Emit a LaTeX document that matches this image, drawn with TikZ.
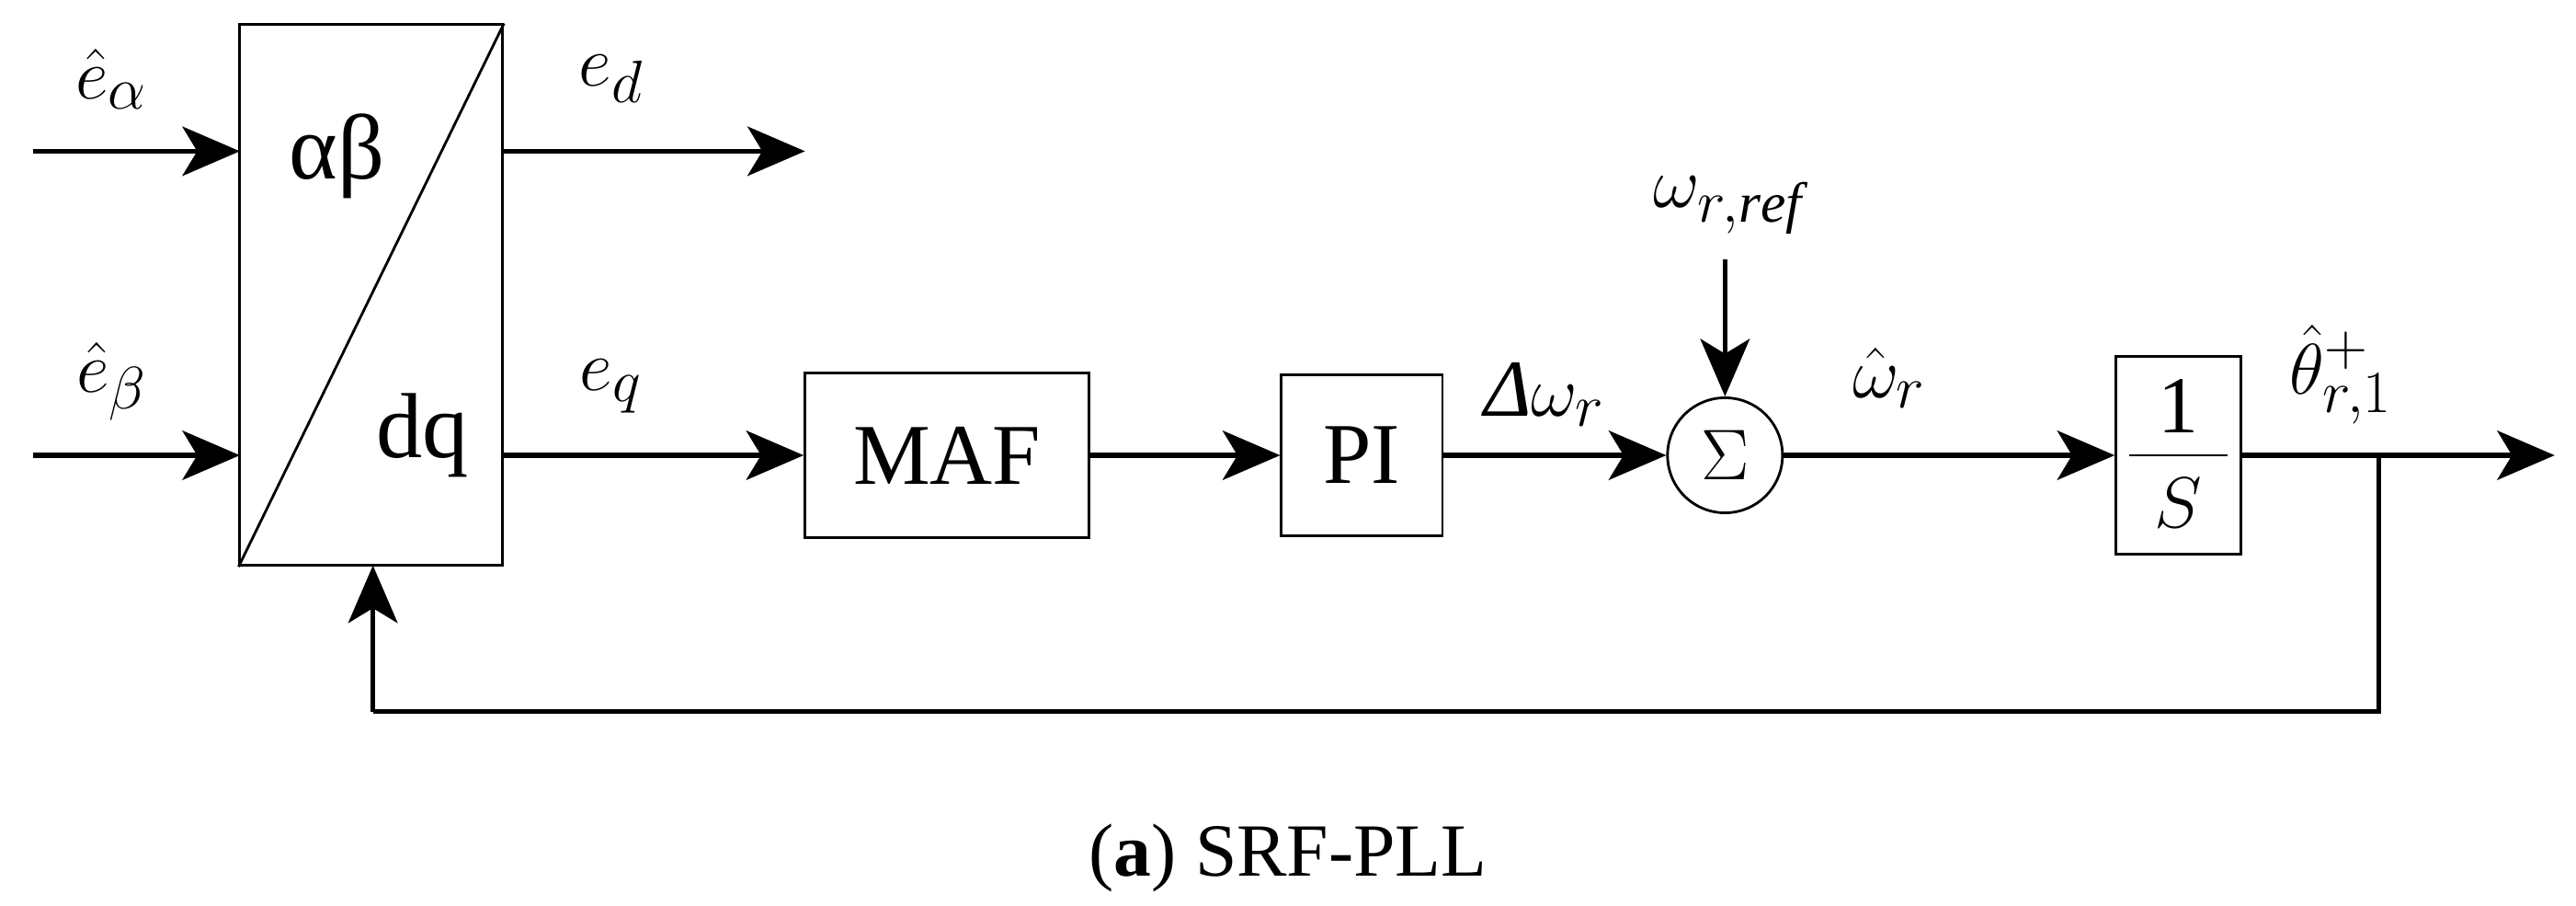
\documentclass[tikz,border=0pt]{standalone}
\usepackage{fontspec}
\setmainfont{Liberation Serif}
\usetikzlibrary{arrows.meta}
\begin{document}
\begin{tikzpicture}[x=0.02cm,y=-0.02cm,
  sig/.style={line width=1.7pt,-{Stealth[length=0.7cm,width=0.6cm,inset=0.18cm]}},
  wire/.style={line width=1.7pt},
  blk/.style={draw,line width=0.9pt,inner sep=0pt,font=\fontsize{30}{34}\selectfont},
  lab/.style={font=\fontsize{28}{32}\selectfont,inner sep=1pt}]
\useasboundingbox (0,0) rectangle (1568,551);
% transformation box
\node[blk,minimum width=160*0.02cm,minimum height=329*0.02cm] (T) at (226,179.5) {};
\draw[line width=0.9pt] (T.south west) -- (T.north east);
\node[lab,font=\fontsize{32}{36}\selectfont] (ab) at (205,95) {αβ};
\node[lab,font=\fontsize{32}{36}\selectfont] (dq) at (257,265) {dq};
% inputs
\coordinate (ia) at (20,92); \coordinate (ib) at (20,277);
\coordinate (ta) at (146,92); \coordinate (tb) at (146,277);
\draw[sig] (ia) -- (ta);
\draw[sig] (ib) -- (tb);
\node[lab] (la) at (68,48) {$\hat e_\alpha$};
\node[lab] (lb) at (68,232) {$\hat e_\beta$};
% outputs
\coordinate (od) at (306,92); \coordinate (ed) at (490,92);
\draw[sig] (od) -- (ed);
\node[lab] (led) at (372,48) {$e_d$};
\coordinate (oq) at (306,277);
\node[blk,minimum width=173*0.02cm,minimum height=100*0.02cm] (maf) at (576.5,277) {MAF};
\draw[sig] (oq) -- (maf.west);
\node[lab] (leq) at (372,235) {$e_q$};
\node[blk,minimum width=98*0.02cm,minimum height=98*0.02cm] (pi) at (829,277) {PI};
\draw[sig] (maf.east) -- (pi.west);
\node[draw,circle,line width=0.9pt,minimum size=70*0.02cm,inner sep=0pt,font=\fontsize{38}{42}\selectfont] (sum) at (1050,277) {$\Sigma$};
\draw[sig] (pi.east) -- (sum.west);
\node[lab] (ldw) at (940,240) {{\itshape Δ}$\omega_r$};
\node[lab] (lref) at (1052,125) {$\omega_{r,\mathit{ref}}$};
\coordinate (rt) at (1050,158);
\draw[sig] (rt) -- (sum.north);
\node[blk,minimum width=76*0.02cm,minimum height=120*0.02cm] (int) at (1326,277) {};
\node[lab] (one) at (1326,247) {1};
\node[lab] (ess) at (1326,306) {$S$};
\draw[line width=0.9pt] (1296,277) -- (1356,277);
\draw[sig] (sum.east) -- (int.west);
\node[lab] (lw) at (1150,230) {$\hat\omega_r$};
\coordinate (out) at (1555,277);
\draw[sig] (int.east) -- (out);
\node[lab] (lth) at (1425,228) {$\hat\theta^+_{r,1}$};
% feedback
\coordinate (br) at (1448,277);
\coordinate (c1) at (1448,433);
\coordinate (c2) at (227,433);
\coordinate (fb) at (227,344);
\draw[wire] (br) -- (c1) -- (c2);
\draw[sig] (c2) -- (fb);
\node[font=\fontsize{26}{30}\selectfont] (cap) at (784,522) {(\textbf{a}) SRF-PLL};
\end{tikzpicture}
\end{document}
